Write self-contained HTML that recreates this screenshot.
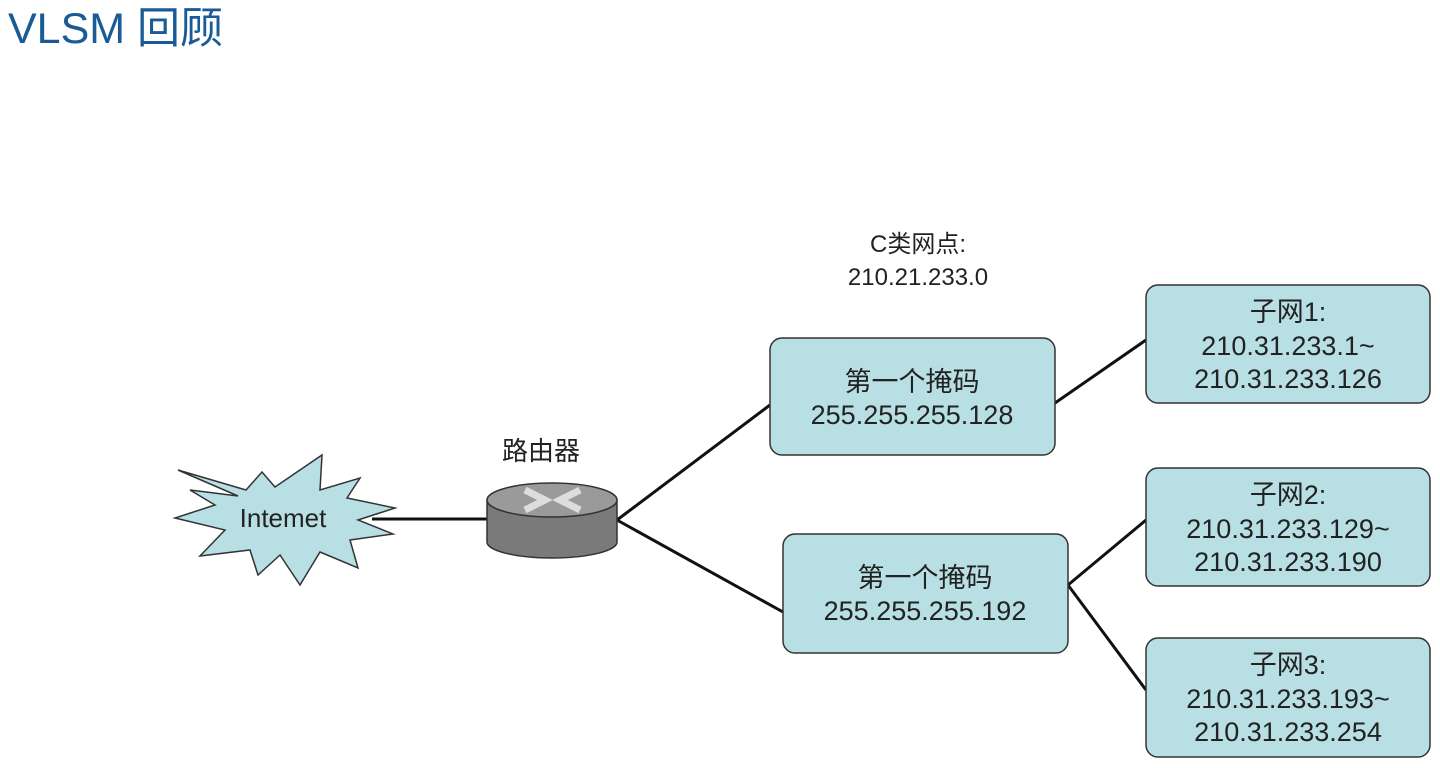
<!DOCTYPE html>
<html><head><meta charset="utf-8"><style>
body{margin:0;width:1440px;height:768px;background:#fff;overflow:hidden;font-family:"Liberation Sans","Noto Sans CJK SC",sans-serif}
svg{position:absolute;left:0;top:0}
</style></head><body>
<svg width="1440" height="768" viewBox="0 0 1440 768" font-family="Liberation Sans, Noto Sans CJK SC, sans-serif">
<text x="8" y="43" font-size="43" fill="#1a5a96">VLSM 回顾</text>
<g stroke="#111" stroke-width="3" fill="none">
<line x1="372" y1="519" x2="487" y2="519"/>
<line x1="617" y1="520" x2="770" y2="405"/>
<line x1="617" y1="520" x2="783" y2="612"/>
<line x1="1055" y1="403" x2="1146" y2="340"/>
<line x1="1068" y1="585" x2="1146" y2="520"/>
<line x1="1068" y1="585" x2="1146" y2="690"/>
</g>
<polygon fill="#b8e0e4" stroke="#333" stroke-width="1.5" points="178,470 246,490 262,472 275,487 322,455 320,490 360,478 347,498 395,508 358,520 393,534 350,540 358,568 320,552 300,585 280,555 258,575 250,550 200,556 225,530 175,518 215,505 190,490 238,496"/>
<text x="283" y="527" font-size="26" text-anchor="middle" fill="#222">Intemet</text>
<text x="541" y="460" font-size="26" text-anchor="middle" fill="#222">路由器</text>
<path d="M487,500 L487,542 A65,16 0 0 0 617,542 L617,500 Z" fill="#7a7a7a" stroke="#333" stroke-width="1.5"/>
<ellipse cx="552" cy="500" rx="65" ry="17" fill="#9a9a9a" stroke="#333" stroke-width="1.5"/>
<path d="M525,490 L545,500 L525,510 M580,490 L560,500 L580,510" stroke="#ddd" stroke-width="7" fill="none"/>
<text x="918" y="252" font-size="24" text-anchor="middle" fill="#222">C类网点:</text>
<text x="918" y="285" font-size="24" text-anchor="middle" fill="#222">210.21.233.0</text>
<g fill="#b8e0e4" stroke="#333" stroke-width="1.5">
<rect x="770" y="338" width="285" height="117" rx="12"/>
<rect x="783" y="534" width="285" height="119" rx="12"/>
<rect x="1146" y="285" width="284" height="118" rx="12"/>
<rect x="1146" y="468" width="284" height="118" rx="12"/>
<rect x="1146" y="638" width="284" height="119" rx="12"/>
</g>
<g font-size="27" text-anchor="middle" fill="#222">
<text x="912" y="391">第一个掩码</text>
<text x="912" y="424">255.255.255.128</text>
<text x="925" y="587">第一个掩码</text>
<text x="925" y="620">255.255.255.192</text>
<text x="1288" y="321">子网1:</text>
<text x="1288" y="355">210.31.233.1~</text>
<text x="1288" y="388">210.31.233.126</text>
<text x="1288" y="504">子网2:</text>
<text x="1288" y="538">210.31.233.129~</text>
<text x="1288" y="571">210.31.233.190</text>
<text x="1288" y="674">子网3:</text>
<text x="1288" y="708">210.31.233.193~</text>
<text x="1288" y="741">210.31.233.254</text>
</g>
</svg>
</body></html>
